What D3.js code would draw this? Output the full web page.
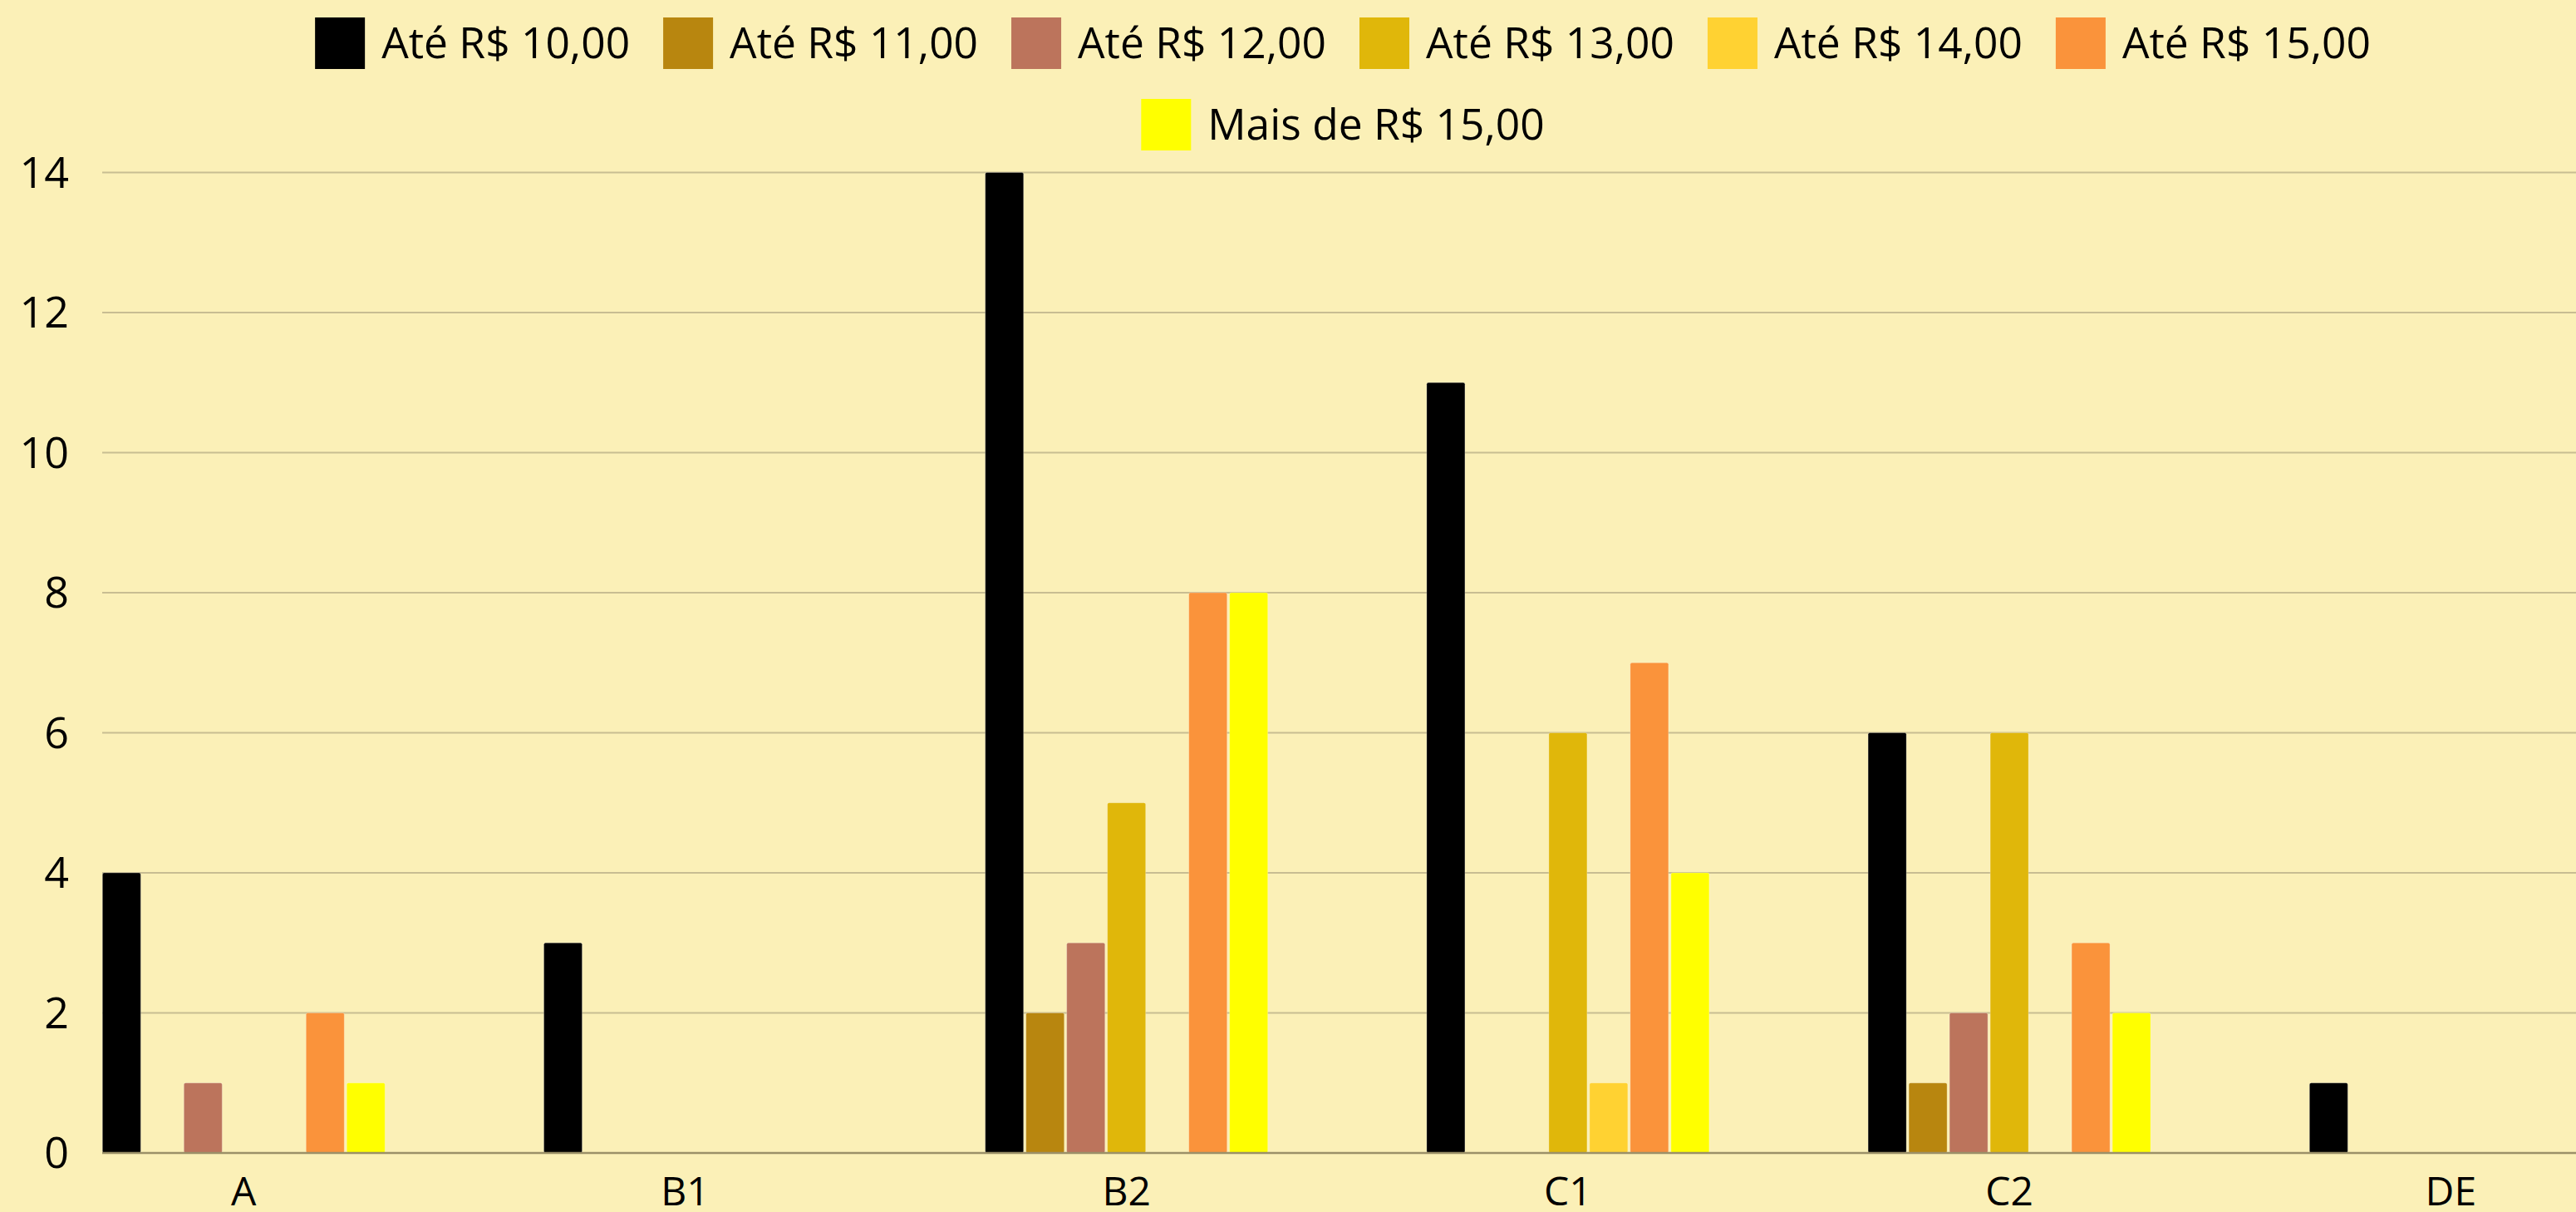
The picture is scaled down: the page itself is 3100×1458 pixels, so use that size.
<html>
<head>
<meta charset="utf-8"/>
<script src="https://d3js.org/d3.v7.min.js"></script>
<style type="text/css">
body {
  margin: 0;
  overflow: hidden;
  background: #fbf0b7;
  font-family: "Open Sans", sans-serif;
}
</style>
</head>
<body>
<div id="v"></div>
<script type="text/javascript">
// categories (x axis) and price bands (series)
var classes = ["A", "B1", "B2", "C1", "C2", "DE"];
var series = ["Até R$ 10,00", "Até R$ 11,00", "Até R$ 12,00", "Até R$ 13,00", "Até R$ 14,00", "Até R$ 15,00", "Mais de R$ 15,00"];
var colors = ["#000000", "#b8860f", "#bc745c", "#e0b70a", "#ffd232", "#fa933b", "#ffff00"];
var yTicks = [0, 2, 4, 6, 8, 10, 12, 14];

// one row per class, one value per series
var values = {
  "A":  [4, 0, 1, 0, 0, 2, 1],
  "B1": [3, 0, 0, 0, 0, 0, 0],
  "B2": [14, 2, 3, 5, 0, 8, 8],
  "C1": [11, 0, 0, 6, 1, 7, 4],
  "C2": [6, 1, 2, 6, 0, 3, 2],
  "DE": [1, 0, 0, 0, 0, 0, 0]
};

var width = 3100, height = 1458;
var plotLeft = 123, plotRight = 3100;

var svg = d3.select("#v").append("svg")
  .attr("width", width)
  .attr("height", height);

svg.append("rect").attr("width", width).attr("height", height).attr("fill", "#fbf0b7");

var y = d3.scaleLinear().domain([0, 14]).range([1387, 207.5]);

// the group scale runs a bit past the visible plot on both sides
var x0 = d3.scaleBand().domain(classes)
  .range([27.7, 27.7 + 6 * 531.2])
  .paddingInner(0.36)
  .paddingOuter(0.18);

var x1 = d3.scaleBand().domain(series)
  .range([0, x0.bandwidth()])
  .paddingInner(0.061);

// gridlines
svg.append("g").selectAll("line")
  .data(yTicks.filter(function(d) { return d > 0; }))
  .enter().append("line")
  .attr("x1", plotLeft).attr("x2", plotRight)
  .attr("y1", function(d) { return y(d); })
  .attr("y2", function(d) { return y(d); })
  .attr("stroke", "#c8bd92")
  .attr("stroke-width", 2);

// y labels
svg.append("g").selectAll("text")
  .data(yTicks).enter()
  .append("text")
  .attr("x", 83)
  .attr("y", function(d) { return y(d); })
  .attr("dy", "0.35em")
  .attr("text-anchor", "end")
  .style("font-size", "52px")
  .text(function(d) { return d; });

// bars
var groups = svg.append("g").selectAll("g")
  .data(classes).enter()
  .append("g")
  .attr("transform", function(d) { return "translate(" + x0(d) + ",0)"; });

groups.selectAll("rect")
  .data(function(c) {
    return values[c].map(function(v, i) { return {key: series[i], value: v, color: colors[i]}; });
  })
  .enter().append("rect")
  .filter(function(d) { return d.value > 0; })
  .attr("x", function(d) { return x1(d.key); })
  .attr("width", x1.bandwidth())
  .attr("y", function(d) { return y(d.value); })
  .attr("height", function(d) { return y(0) - y(d.value); })
  .attr("rx", 2)
  .attr("fill", function(d) { return d.color; })
  .attr("stroke", "rgba(255,255,255,0.25)")
  .attr("stroke-width", 1);

// baseline
svg.append("line")
  .attr("x1", plotLeft).attr("x2", plotRight)
  .attr("y1", y(0)).attr("y2", y(0))
  .attr("stroke", "#9b9068")
  .attr("stroke-width", 2.5);

// x labels
svg.append("g").selectAll("text")
  .data(classes).enter()
  .append("text")
  .attr("x", function(d) { return x0(d) + x0.bandwidth() / 2; })
  .attr("y", 1450)
  .attr("text-anchor", "middle")
  .style("font-size", "48px")
  .text(function(d) { return d; });

// legend, two centred rows
var legendRows = [series.slice(0, 6), series.slice(6)];
var legendCenter = 1616;
legendRows.forEach(function(row, r) {
  var g = svg.append("g");
  var cx = 0;
  row.forEach(function(name) {
    var i = series.indexOf(name);
    var item = g.append("g").attr("transform", "translate(" + cx + ",0)");
    item.append("rect")
      .attr("x", 0).attr("y", 21 + r * 98)
      .attr("width", 60).attr("height", 62)
      .attr("fill", colors[i]);
    var t = item.append("text")
      .attr("x", 80).attr("y", 52 + r * 98)
      .attr("dy", "0.35em")
      .style("font-size", "51.5px")
      .text(name);
    cx += 80 + t.node().getComputedTextLength() + 40;
  });
  var total = cx - 40;
  g.attr("transform", "translate(" + (legendCenter - total / 2) + ",0)");
});
</script>
</body>
</html>
